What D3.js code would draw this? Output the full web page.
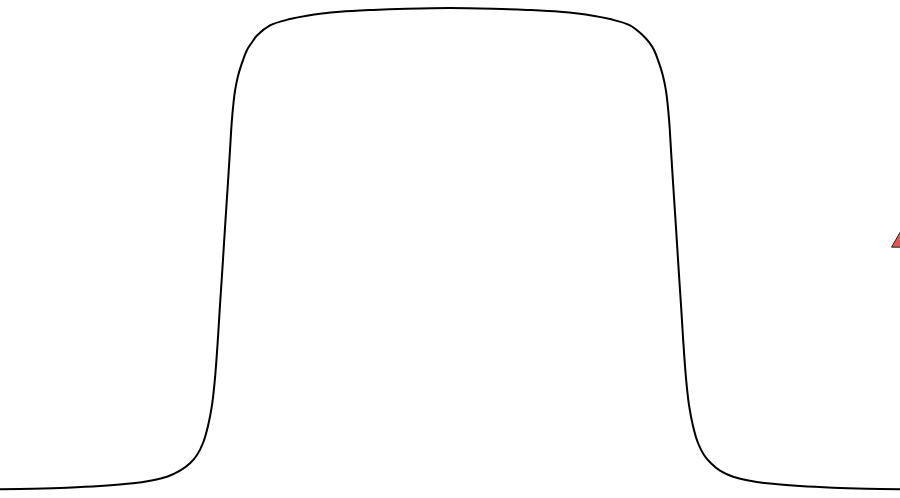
<!DOCTYPE html>
<html>
<head>
  <meta charset="utf-8"/>
  <style>
    body { margin: 0; background: #fff; }
    svg { display: block; }
  </style>
</head>
<body>
  <div id="chart"></div>
  <script src="https://d3js.org/d3.v7.min.js"></script>
  <script>
    // curve samples (x: position, y: level 0..1)
    let xValues = [-4.5, -4.17, -3.83, -3.5, -3.17, -3.0, -2.83, -2.7, -2.6, -2.53,
                   -2.47, -2.42, -2.38, -2.35, -2.32, -2.3, -2.28, -2.25, -2.22, -2.2,
                   -2.18, -2.15, -2.12, -2.08, -2.03, -1.98, -1.93, -1.8, -1.6, -1.43, -1.1,
                   -0.77, -0.43, 0,
                   0.43, 0.77, 1.1, 1.43, 1.6, 1.8, 1.93, 1.99, 2.04, 2.09, 2.13,
                   2.16, 2.19, 2.21, 2.23, 2.26, 2.29, 2.31, 2.33, 2.36, 2.39,
                   2.43, 2.48, 2.54, 2.61, 2.7, 2.83, 3.0, 3.17, 3.5, 3.83, 4.17, 4.5];
    let yValues = [0.0015, 0.0027, 0.0048, 0.0083, 0.0139, 0.0193, 0.0276, 0.040, 0.0554, 0.0726,
                   0.0975, 0.133, 0.176, 0.232, 0.317, 0.384, 0.446, 0.544, 0.639, 0.705,
                   0.770, 0.828, 0.859, 0.886, 0.913, 0.929, 0.943, 0.964, 0.977, 0.984, 0.992,
                   0.996, 0.9985, 1.0,
                   0.9985, 0.996, 0.992, 0.984, 0.977, 0.964, 0.943, 0.929, 0.913, 0.886, 0.859,
                   0.828, 0.770, 0.705, 0.639, 0.544, 0.446, 0.384, 0.317, 0.232, 0.176,
                   0.133, 0.0975, 0.0726, 0.0554, 0.040, 0.0276, 0.0193, 0.0139, 0.0083, 0.0048, 0.0027, 0.0015];

    // the single triangle marker
    let markerX = [4.5];
    let markerY = [0.514];

    let width = 900,
        height = 498;

    let svg = d3.select('#chart')
        .append('svg')
        .attr('width', width)
        .attr('height', height);

    let x = d3.scaleLinear().domain([-4.5, 4.5]).range([0, width]);
    let y = d3.scaleLinear().domain([0, 1]).range([490, 8]);

    let points = xValues.map(function (d, i) { return [d, yValues[i]]; });

    let line = d3.line()
        .x(function (d) { return x(d[0]); })
        .y(function (d) { return y(d[1]); })
        .curve(d3.curveCatmullRom.alpha(0.5));

    svg.append('path')
        .datum(points)
        .attr('fill', 'none')
        .attr('stroke', 'black')
        .attr('stroke-width', 2)
        .attr('d', line);

    svg.selectAll('.marker')
        .data(markerX.map(function (d, i) { return [d, markerY[i]]; }))
        .enter()
        .append('path')
        .attr('class', 'marker')
        .attr('d', d3.symbol().type(d3.symbolTriangle).size(125))
        .attr('transform', function (d) { return 'translate(' + x(d[0]) + ',' + y(d[1]) + ')'; })
        .attr('fill', '#e15759')
        .attr('stroke', '#222')
        .attr('stroke-width', 1);
  </script>
</body>
</html>
